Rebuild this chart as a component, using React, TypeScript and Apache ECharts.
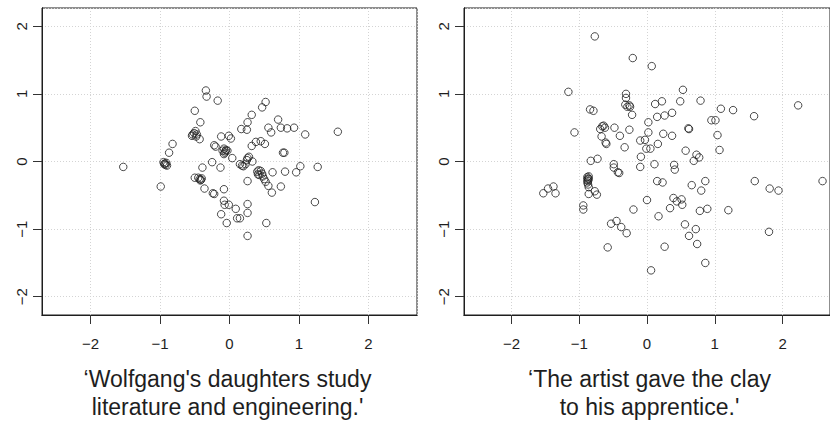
import React, { useEffect, useRef } from "react";
import * as echarts from "echarts";

const tickValues = [-2, -1, 0, 1, 2];

const captionLeft = ["\u2018Wolfgang's daughters study", "literature and engineering.'"];
const captionRight = ["\u2018The artist gave the clay", "to his apprentice.'"];

const pointsLeft: number[][] = [
  [-1.53, -0.08], [-0.99, -0.37],
  [-0.95, -0.01], [-0.93, -0.03], [-0.92, -0.05], [-0.9, -0.06], [-0.91, -0.02], [-0.94, -0.04],
  [-0.87, 0.13], [-0.82, 0.26],
  [-0.5, 0.75], [-0.42, 0.58], [-0.54, 0.38], [-0.51, 0.42], [-0.49, 0.45], [-0.47, 0.4], [-0.48, 0.37], [-0.53, 0.4], [-0.43, 0.33],
  [-0.34, 1.05], [-0.33, 0.96], [-0.17, 0.9],
  [-0.39, -0.09], [-0.5, -0.24],
  [-0.45, -0.24], [-0.43, -0.26], [-0.41, -0.27], [-0.4, -0.25], [-0.42, -0.28],
  [-0.36, -0.4], [-0.24, -0.47], [-0.22, -0.48], [-0.25, -0.01], [-0.22, 0.24], [-0.2, 0.22], [-0.12, 0.37], [-0.13, -0.09],
  [-0.1, 0.16], [-0.08, 0.19], [-0.07, 0.13], [-0.05, 0.17], [-0.08, 0.11], [-0.03, 0.16], [-0.06, 0.15],
  [-0.01, 0.38], [0.02, 0.34], [0.04, 0.05],
  [-0.08, -0.41], [-0.08, -0.58], [-0.07, -0.64], [-0.01, -0.64], [-0.12, -0.78], [-0.04, -0.91],
  [0.09, -0.7], [0.11, -0.84], [0.15, -0.84],
  [0.15, -0.04], [0.18, -0.06], [0.2, -0.07], [0.23, -0.04],
  [0.26, 0.05], [0.28, 0.07], [0.25, 0.02], [0.33, 0.0],
  [0.17, 0.48], [0.25, 0.47], [0.26, 0.58], [0.32, 0.69],
  [0.26, -0.29], [0.26, -0.63], [0.26, -0.76], [0.26, -1.1],
  [0.32, 0.23], [0.38, 0.29], [0.45, 0.3], [0.51, 0.26], [0.47, 0.8], [0.52, 0.88], [0.56, 0.5], [0.6, 0.43],
  [0.4, -0.15], [0.42, -0.13], [0.45, -0.14], [0.47, -0.18], [0.43, -0.2], [0.41, -0.19], [0.48, -0.22],
  [0.5, -0.26], [0.52, -0.3], [0.56, -0.36], [0.61, -0.46], [0.62, -0.16], [0.53, -0.91],
  [0.7, 0.62], [0.74, 0.5], [0.83, 0.49], [0.93, 0.5], [0.77, 0.13], [0.79, 0.13], [0.74, -0.37], [0.8, -0.15],
  [1.09, 0.4], [0.96, -0.16], [1.02, -0.07], [1.27, -0.08], [1.23, -0.6], [1.56, 0.44],
];

const pointsRight: number[][] = [
  [-0.77, 1.85], [-0.21, 1.53], [0.07, 1.41], [-1.16, 1.03], [-1.07, 0.43],
  [-1.53, -0.47], [-1.46, -0.4], [-1.38, -0.37], [-1.35, -0.47],
  [-0.94, -0.65], [-0.94, -0.71],
  [-0.88, -0.23], [-0.87, -0.25], [-0.86, -0.22], [-0.88, -0.27], [-0.87, -0.29], [-0.86, -0.26], [-0.88, -0.31], [-0.87, -0.34],
  [-0.86, -0.38], [-0.86, -0.48], [-0.83, 0.01], [-0.73, 0.04], [-0.84, 0.77], [-0.79, 0.75], [-0.77, -0.44], [-0.74, -0.49],
  [-0.69, 0.48], [-0.66, 0.52], [-0.64, 0.53], [-0.62, 0.5], [-0.67, 0.37], [-0.61, 0.28], [-0.6, 0.26],
  [-0.48, 0.5], [-0.4, 0.38], [-0.33, 0.21], [-0.49, -0.04], [-0.49, -0.09], [-0.43, -0.16], [-0.41, -0.17],
  [-0.31, 1.0], [-0.31, 0.94], [-0.32, 0.84], [-0.29, 0.81], [-0.26, 0.83], [-0.25, 0.81], [-0.22, 0.69], [-0.26, 0.47],
  [-0.58, -1.27], [-0.53, -0.92], [-0.45, -0.88], [-0.38, -0.97], [-0.3, -1.06], [-0.2, -0.71],
  [-0.1, 0.31], [-0.03, 0.32], [0.02, 0.58], [0.02, 0.43], [-0.01, 0.19], [0.05, 0.19], [-0.09, 0.07], [-0.1, -0.08], [0.11, -0.04], [0.16, 0.26],
  [0.12, 0.85], [0.15, 0.66], [0.22, 0.89], [0.26, 0.68], [0.24, 0.41], [0.37, 0.72], [0.37, 0.38],
  [0.0, -0.57], [0.15, -0.29], [0.23, -0.31], [0.17, -0.81], [0.34, -0.69], [0.26, -1.26], [0.06, -1.61],
  [0.53, 1.06], [0.49, 0.89], [0.61, 0.49], [0.62, 0.48], [0.57, 0.16], [0.4, -0.05], [0.41, -0.12],
  [0.39, -0.54], [0.44, -0.59], [0.51, -0.56], [0.52, -0.64], [0.66, -0.35], [0.56, -0.93], [0.62, -1.1],
  [0.73, 0.1], [0.77, 0.06], [0.69, 0.01], [0.79, 0.9], [0.72, -1.0], [0.74, -1.22], [0.86, -0.29], [0.8, -0.43],
  [0.78, -0.73], [0.89, -0.7], [0.86, -1.5], [0.95, 0.61], [1.01, 0.61], [1.04, 0.39], [1.07, 0.17], [1.09, 0.78], [1.27, 0.76],
  [1.2, -0.72], [1.58, 0.67], [1.59, -0.29], [1.81, -0.4], [1.94, -0.43], [1.8, -1.04], [2.23, 0.83], [2.59, -0.29],
];

const FONT = "'Liberation Sans', Arial, Helvetica, sans-serif";
const INK = "#1e1e1e";
const fmt = (v: number) => String(v).replace("-", "\u2212");

const X_RANGE = { min: -2.7, max: 2.7 };
const Y_RANGE = { min: -2.27, max: 2.27 };
const PANEL_LEFT = [42, 464];
const PANEL_TOP = 8;
const PANEL_W = 375;
const PANEL_H = 307;
const TICK_LEN = 9;

function xAxisFor(gridIndex: number) {
  return {
    gridIndex,
    type: "value",
    position: "bottom",
    ...X_RANGE,
    axisLine: { show: true, onZero: false, lineStyle: { color: INK, width: 1 } },
    axisTick: { show: false },
    axisLabel: { customValues: tickValues, formatter: fmt, margin: 21, fontSize: 15, color: INK, fontFamily: FONT },
    splitLine: { show: true, lineStyle: { color: "#d4d4d4", type: [1, 2], width: 1 } },
  };
}

function yAxisFor(gridIndex: number) {
  return {
    gridIndex,
    type: "value",
    position: "left",
    ...Y_RANGE,
    axisLine: { show: true, onZero: false, lineStyle: { color: INK, width: 1 } },
    axisTick: { show: false },
    axisLabel: { customValues: tickValues, formatter: fmt, rotate: 90, margin: 13, fontSize: 15, color: INK, fontFamily: FONT },
    splitLine: { show: true, lineStyle: { color: "#d4d4d4", type: [1, 2], width: 1 } },
  };
}

// thin strip grids: below each panel (x ticks) and left of each panel (y ticks)
// grid indices: 0,1 panels; 2,3 bottom strips; 4,5 left strips
function hiddenAxis(gridIndex: number, range: { min: number; max: number }, position: string) {
  return {
    gridIndex,
    type: "value",
    position,
    ...range,
    show: false,
    axisLine: { show: false, onZero: false },
    axisTick: { show: false },
    axisLabel: { show: false },
    splitLine: { show: false },
  };
}

function tickAxis(gridIndex: number, range: { min: number; max: number }, position: string) {
  return {
    gridIndex,
    type: "value",
    position,
    ...range,
    axisLine: { show: true, onZero: false, lineStyle: { color: INK, width: 1 } },
    axisTick: { show: true, inside: true, length: TICK_LEN, customValues: tickValues, lineStyle: { color: "#333", width: 1 } },
    axisLabel: { show: false },
    splitLine: { show: false },
  };
}

function scatter(idx: number, data: number[][]) {
  return {
    type: "scatter",
    xAxisIndex: idx,
    yAxisIndex: idx,
    data,
    symbol: "circle",
    symbolSize: 7.5,
    itemStyle: { color: "rgba(0,0,0,0)", borderColor: INK, borderWidth: 1 },
  };
}

function caption(lines: string[], cx: number) {
  return lines.map((t, i) => ({
    type: "text",
    x: cx,
    y: 379 + i * 28,
    style: { text: t, fill: INK, font: `23px ${FONT}`, textAlign: "center", textVerticalAlign: "middle" },
  }));
}

export default function App() {
  const ref = useRef<HTMLDivElement>(null);
  useEffect(() => {
    if (!ref.current) return;
    const chart = echarts.init(ref.current, null, { renderer: "svg" });
    const panelGrids = PANEL_LEFT.map((l) => ({
      left: l, top: PANEL_TOP, width: PANEL_W, height: PANEL_H, show: true, borderColor: INK, borderWidth: 1,
    }));
    const bottomStrips = PANEL_LEFT.map((l) => ({
      left: l, top: PANEL_TOP + PANEL_H, width: PANEL_W, height: TICK_LEN, show: false,
    }));
    const leftStrips = PANEL_LEFT.map((l) => ({
      left: l - TICK_LEN, top: PANEL_TOP, width: TICK_LEN, height: PANEL_H, show: false,
    }));
    chart.setOption({
      animation: false,
      grid: [...panelGrids, ...bottomStrips, ...leftStrips],
      xAxis: [
        xAxisFor(0), xAxisFor(1),
        tickAxis(2, X_RANGE, "top"), tickAxis(3, X_RANGE, "top"),
        hiddenAxis(4, { min: 0, max: 1 }, "bottom"), hiddenAxis(5, { min: 0, max: 1 }, "bottom"),
      ],
      yAxis: [
        yAxisFor(0), yAxisFor(1),
        hiddenAxis(2, { min: 0, max: 1 }, "left"), hiddenAxis(3, { min: 0, max: 1 }, "left"),
        tickAxis(4, Y_RANGE, "right"), tickAxis(5, Y_RANGE, "right"),
      ],
      series: [scatter(0, pointsLeft), scatter(1, pointsRight)],
      graphic: [...caption(captionLeft, 227.5), ...caption(captionRight, 649.5)],
    });
    return () => chart.dispose();
  }, []);
  return (
    <div
      ref={ref}
      style={{ position: "fixed", left: 0, top: 0, width: 830, height: 422, background: "#fff" }}
    />
  );
}
